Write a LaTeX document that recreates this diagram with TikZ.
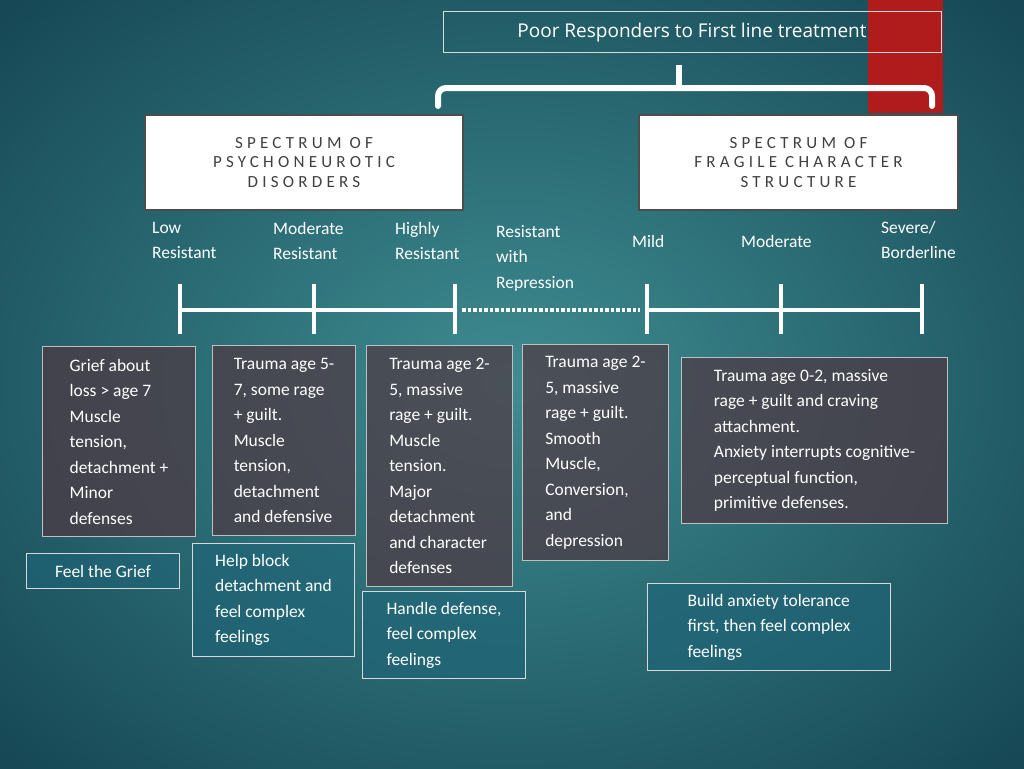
\documentclass[tikz,border=0pt]{standalone}
\usepackage{fontspec}
\setmainfont{Carlito}
\newfontfamily\spaced[LetterSpace=25]{Carlito}
\newfontfamily\titlef{Open Sans}
\definecolor{bgin}{RGB}{62,140,145}
\definecolor{bgout}{RGB}{22,72,85}
\definecolor{redbar}{RGB}{176,28,28}
\definecolor{darkfill}{RGB}{80,55,65}
\definecolor{tealfill}{RGB}{30,100,120}
\begin{document}
\begin{tikzpicture}[x=1pt,y=-1pt,
  txt/.style={text=white,font=\fontsize{17.5}{25.5}\selectfont,align=left,inner sep=0pt},
  lbl/.style={txt,anchor=north west},
  darkbox/.style={draw=white!75!black,line width=1pt,fill=darkfill,fill opacity=0.7,text opacity=1,text=white,font=\fontsize{17.5}{25.5}\selectfont,align=left,anchor=north west,inner sep=9pt},
  tealbox/.style={draw=white!85!black,line width=1pt,fill=tealfill,fill opacity=0.6,text opacity=1,text=white,font=\fontsize{17.5}{25.5}\selectfont,align=left,anchor=north west,inner sep=9pt},
  hdr/.style={draw=black!70,line width=2pt,fill=white,text=black!75,font=\spaced\fontsize{17}{19.5}\selectfont,align=center},
  scaleline/.style={white,line width=4.5pt}]
\useasboundingbox (0,0) rectangle (1024,768);
\shade[inner color=bgin,outer color=bgout] (-200,-150) rectangle (1224,918);
\fill[redbar] (868,0) rectangle (943,113);
% title
\node[draw=white!85!black,line width=1pt,minimum width=498pt,minimum height=41pt,text=white,font=\titlef\fontsize{19}{22}\selectfont] (title) at (692,32.5) {Poor Responders to First line treatment};
% bracket
\draw[white,line width=6pt,rounded corners=8pt,line cap=round] (438,106) -- (438,88) -- (932,88) -- (932,106);
\coordinate (tk) at (679,65);
\draw[white,line width=6pt] (tk) -- (679,90);
% headers
\node[hdr,minimum width=318pt,minimum height=95pt] (h1) at (304,162.5) {SPECTRUM OF\\PSYCHONEUROTIC\\DISORDERS};
\node[hdr,minimum width=319pt,minimum height=95pt] (h2) at (798.5,162.5) {SPECTRUM OF\\FRAGILE CHARACTER\\STRUCTURE};
% labels
\node[lbl] (l1) at (152,222) {Low\\Resistant};
\node[lbl] (l2) at (273,222) {Moderate\\Resistant};
\node[lbl] (l3) at (395,222) {Highly\\Resistant};
\node[lbl] (l4) at (496,225) {Resistant\\with\\Repression};
\node[lbl] (l5) at (632,235) {Mild};
\node[lbl] (l6) at (741,235) {Moderate};
\node[lbl] (l7) at (881,221) {Severe/\\Borderline};
% scale
\coordinate (a1) at (180,310); \coordinate (a2) at (314,310); \coordinate (a3) at (455,310);
\coordinate (b1) at (647,310); \coordinate (b2) at (781,310); \coordinate (b3) at (922,310);
\draw[scaleline] (a1) -- (a3);
\draw[scaleline] (b1) -- (b3);
\draw[white,line width=3.5pt,dotted] (462,310) -- (640,310);
\foreach \p in {a1,a2,a3,b1,b2,b3} \draw[scaleline] ([yshift=-24pt]\p) -- ([yshift=26pt]\p);
% dark boxes
\node[darkbox,minimum width=153pt,minimum height=190pt] (A) at (42,346) {Grief about\\loss > age 7\\Muscle\\tension,\\detachment +\\Minor\\defenses};
\node[darkbox,minimum width=143pt,minimum height=190pt] (B) at (212,345) {Trauma age 5-\\7, some rage\\+ guilt.\\Muscle\\tension,\\detachment\\and defensive};
\node[darkbox,minimum width=146pt,minimum height=241pt] (C) at (366,345) {Trauma age 2-\\5,\ massive\\rage + guilt.\\Muscle\\tension.\\Major\\detachment\\and character\\defenses};
\node[darkbox,minimum width=146pt,minimum height=216pt] (D) at (522,344) {Trauma age 2-\\5,\ massive\\rage + guilt.\\Smooth\\Muscle,\\Conversion,\\and\\depression};
\node[darkbox,minimum width=266pt,minimum height=166pt] (E) at (681,357) {Trauma age 0-2,\ massive\\rage + guilt and craving\\attachment.\\Anxiety interrupts cognitive-\\perceptual function,\\primitive defenses.};
% teal boxes
\node[tealbox,minimum width=153pt,minimum height=35pt] (F) at (26,553) {Feel the Grief};
\node[tealbox,minimum width=162pt,minimum height=113pt] (G) at (192,543) {Help block\\detachment and\\feel complex\\feelings};
\node[tealbox,minimum width=163pt,minimum height=87pt] (H) at (362,591) {Handle defense,\\feel complex\\feelings};
\node[tealbox,minimum width=243pt,minimum height=87pt] (I) at (647,583) {Build anxiety tolerance\\first, then feel complex\\feelings};
\end{tikzpicture}
\end{document}
